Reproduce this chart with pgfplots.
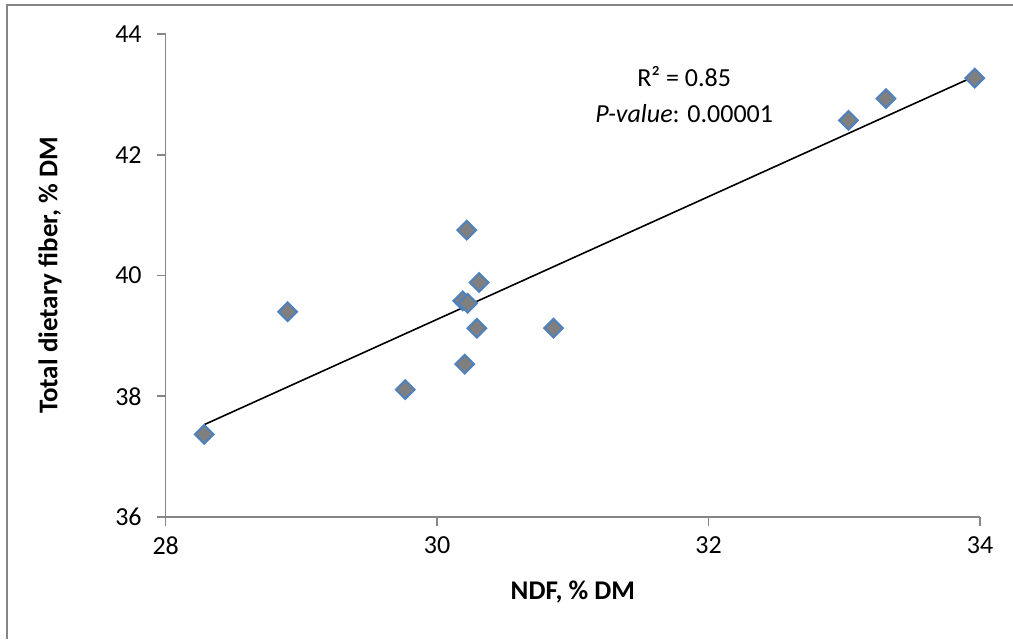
\documentclass[border=0pt]{standalone}
\usepackage{pgfplots}
\pgfplotsset{compat=1.18}
\usepackage{fontspec}
\setmainfont{Carlito}
\definecolor{axisgray}{HTML}{868686}
\definecolor{mkfill}{HTML}{7F7F7F}
\definecolor{mkedge}{HTML}{4F81BD}
\begin{document}
\begin{tikzpicture}
\begin{axis}[
  at={(0,0)}, anchor=south west,
  scale only axis,
  width=407.2pt, height=241.5pt,
  xmin=28, xmax=34, ymin=36, ymax=44,
  xtick={28,30,32,34}, ytick={36,38,40,42,44},
  axis x line*=bottom, axis y line*=left,
  axis line style={draw=axisgray, line width=0.8pt},
  tick style={draw=axisgray, line width=0.8pt},
  tick align=outside,
  major tick length=4.5pt,
  /pgf/number format/assume math mode=true,
  tick label style={font=\fontsize{13}{15}\selectfont, text=black},
  xticklabel style={font=\fontsize{13}{15}\selectfont, yshift=-2pt},
  yticklabel style={font=\fontsize{13}{15}\selectfont, xshift=-4pt},
  xlabel={NDF, \% DM},
  ylabel={Total dietary fiber, \% DM},
  label style={font=\fontsize{13.5}{16}\selectfont\bfseries},
  xlabel style={at={(axis description cs:0.5,-0.1545)}, anchor=center},
  ylabel style={at={(axis description cs:-0.1419,0.5)}, anchor=center, rotate=0},
  clip=false,
]
\addplot[only marks, mark=square*, mark size=3.3pt,
  mark options={rotate=45, fill=mkfill, draw=mkedge, line width=1pt}]
  coordinates {
  (28.284,37.37) (28.899,39.40) (29.764,38.11) (30.218,40.75)
  (30.309,39.886) (30.189,39.58) (30.225,39.54) (30.292,39.127)
  (30.857,39.127) (30.203,38.533) (33.030,42.57) (33.306,42.93)
  (33.960,43.27)
  };
\addplot[black, line width=0.8pt, mark=none] coordinates {(28.284,37.53) (33.960,43.30)};
\node[font=\fontsize{13}{15}\selectfont, anchor=center] at (axis cs:31.82,43.30) {R² = 0.85};
\node[font=\fontsize{13}{15}\selectfont, anchor=center] at (axis cs:31.82,42.69) {\textit{P-value}: 0.00001};
\end{axis}
\draw[axisgray, line width=0.8pt] (-79.35pt,-61pt) -- (-79.35pt,256pt) -- (423.65pt,256pt);
\pgfresetboundingbox
\useasboundingbox (-82.85pt,-61pt) rectangle (423.65pt,258.5pt);
\end{tikzpicture}
\end{document}
